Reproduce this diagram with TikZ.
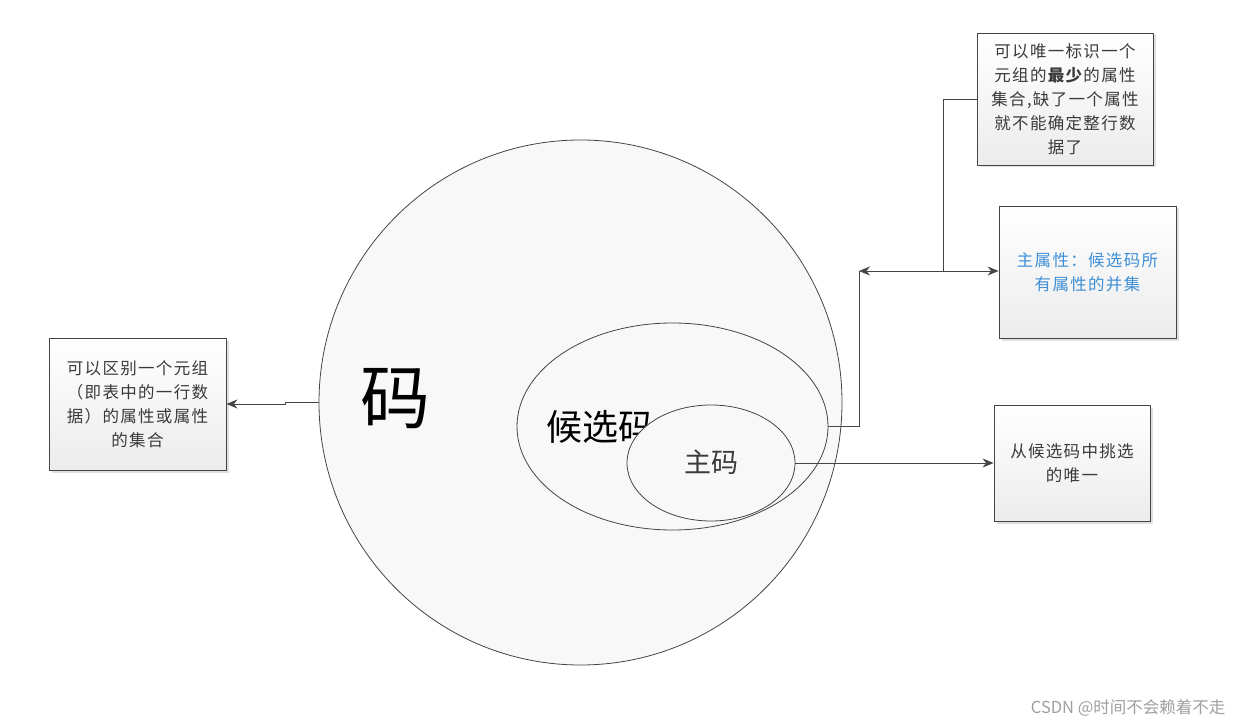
\documentclass[tikz,border=0pt]{standalone}
\usepackage{fontspec}
\setmainfont{Noto Sans CJK SC}[LetterSpace=8]
\newfontfamily\cjkplain{Noto Sans CJK SC}
\usetikzlibrary{arrows.meta,shapes.geometric,shadows}
\definecolor{linec}{HTML}{454545}
\definecolor{textc}{HTML}{3A3A3A}
\definecolor{bluec}{HTML}{3F8FD6}
\definecolor{fillc}{HTML}{F8F8F8}
\definecolor{boxbot}{HTML}{ECECEC}
\tikzset{
  box/.style={draw=linec, line width=0.9pt, top color=white, bottom color=boxbot,
    drop shadow={shadow xshift=2.5pt, shadow yshift=-2.5pt, opacity=0.25},
    inner sep=0pt, align=center, text=textc, font=\fontsize{16.5}{24}\selectfont},
  ring/.style={ellipse, draw=linec, line width=0.8pt, fill=fillc, inner sep=0pt},
  conn/.style={draw=linec, line width=0.8pt},
  arr/.style={conn, -{Stealth[length=11pt,width=9pt]}},
  darr/.style={conn, {Stealth[length=11pt,width=9pt]}-{Stealth[length=11pt,width=9pt]}}
}
\begin{document}
\begin{tikzpicture}[x=1pt,y=-1pt]
\useasboundingbox (0,0) rectangle (1244,727);
% circles
\node[ring, minimum width=523pt, minimum height=525pt] (big) at (580.5,402.5) {};
\node[text=black, font=\cjkplain\fontsize{70}{70}\selectfont] (tma) at (395,399) {码};
\node[ring, minimum width=311pt, minimum height=207pt] (mid) at (672.5,426.5) {};
\node[text=black, font=\cjkplain\fontsize{36}{36}\selectfont, anchor=west] (tcand) at (543,427) {候选码};
\node[ring, minimum width=168pt, minimum height=116pt] (small) at (711,463) {};
\node[text=textc, font=\cjkplain\fontsize{27}{27}\selectfont] (tpk) at (711,462) {主码};
% boxes
\node[box, minimum width=177pt, minimum height=132pt] (lbox) at (137.5,404) {可以区别一个元组\\（即表中的一行数\\据）的属性或属性\\的集合};
\node[box, minimum width=176pt, minimum height=132pt] (b1) at (1065,99) {可以唯一标识一个\\元组的\textbf{最少}的属性\\集合,缺了一个属性\\就不能确定整行数\\据了};
\node[box, minimum width=177pt, minimum height=132pt, text=bluec] (b2) at (1087.5,272) {主属性：候选码所\\有属性的并集};
\node[box, minimum width=156pt, minimum height=116pt] (b3) at (1072,463) {从候选码中挑选\\的唯一};
% connectors
\coordinate (lstep) at (285,402.5);
\draw[arr] (big.west) -- (lstep) |- (lbox.east);
\coordinate (j) at (859,271);
\coordinate (k) at (943,271);
\draw[conn] (mid.east) -| (j);
\draw[darr] (j) -- (b2.west |- j);
\draw[conn] (k) |- (b1.west);
\draw[arr] (small.east) -- (b3.west);
% watermark
\node[anchor=east, text=gray!75, font=\cjkplain\fontsize{16.5}{18}\selectfont] (wm) at (1229,708) {CSDN @时间不会赖着不走};
\end{tikzpicture}
\end{document}
